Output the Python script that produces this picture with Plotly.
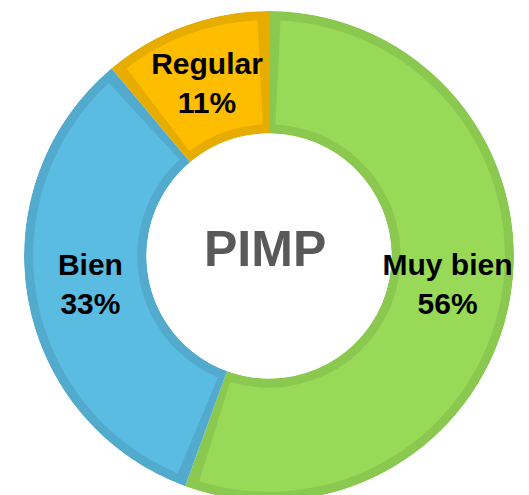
import plotly.graph_objects as go

categories = ["Muy bien", "Bien", "Regular"]
values = [5, 3, 1]
fill_colors = ["#98DA58", "#5BBCE1", "#FFBD00"]
border_colors = ["#8AC850", "#52AACD", "#E6AC00"]
center_title = "PIMP"

W, H = 529, 495
total = sum(values)
spans = [360.0 * v / total for v in values]
starts = [sum(spans[:i]) for i in range(len(spans))]
mids = [s + w / 2 for s, w in zip(starts, spans)]
pcts = [f"{round(100 * v / total)}%" for v in values]

border_r = 0.075     # radial border thickness (fraction of ring)
border_deg = 2.8     # angular border thickness each side

fig = go.Figure()
# outer (border-coloured) wedges
fig.add_trace(go.Barpolar(
    theta=mids, width=spans, r=[1] * len(values), base=[0] * len(values),
    marker=dict(color=border_colors, line=dict(width=0)),
    hoverinfo="skip", showlegend=False,
))
# inner (fill-coloured) wedges
fig.add_trace(go.Barpolar(
    theta=mids, width=[w - 2 * border_deg for w in spans],
    r=[1 - 2 * border_r] * len(values), base=[border_r] * len(values),
    marker=dict(color=fill_colors, line=dict(width=0)),
    hoverinfo="skip", showlegend=False,
))
# labels
fig.add_trace(go.Scatterpolar(
    theta=mids, r=[0.48] * len(values), mode="text",
    text=[f"<b>{c}</b><br><b>{p}</b>" for c, p in zip(categories, pcts)],
    textfont=dict(family="Liberation Sans, Arial, sans-serif", size=30, color="#000000"),
    hoverinfo="skip", showlegend=False,
))

cx, cy, R = 261, 248, 245
fig.update_layout(
    width=W, height=H,
    margin=dict(l=0, r=0, t=0, b=0),
    paper_bgcolor="white",
    plot_bgcolor="white",
    polar=dict(
        domain=dict(x=[(cx - R) / W, (cx + R) / W], y=[(H - cy - R) / H, (H - cy + R) / H]),
        hole=0.5,
        bgcolor="white",
        radialaxis=dict(range=[0, 1], visible=False, showgrid=False),
        angularaxis=dict(rotation=90, direction="clockwise", visible=False, showgrid=False),
    ),
    annotations=[dict(
        text=f"<b>{center_title}</b>", x=257 / W, y=(H - 241) / H, xref="paper", yref="paper",
        showarrow=False, xanchor="center", yanchor="middle",
        font=dict(family="Liberation Sans, Arial, sans-serif", size=50, color="#595959"),
    )],
)

fig.write_html("out.html")
